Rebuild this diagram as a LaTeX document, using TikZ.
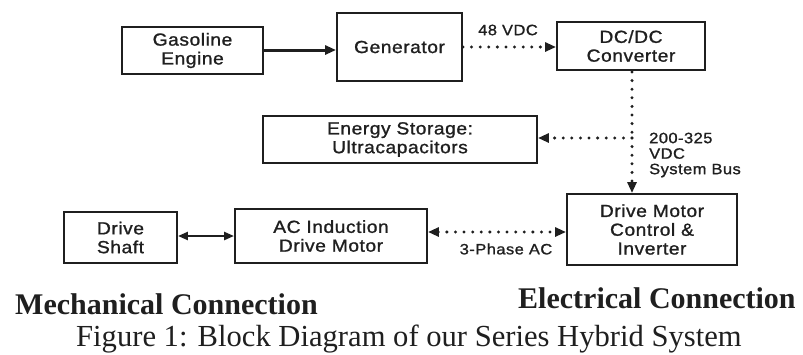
\documentclass[tikz,border=0pt]{standalone}
\usepackage{fontspec}
\setmainfont{Liberation Serif}
\newfontfamily\lab{Liberation Sans}[LetterSpace=3, FakeStretch=1.1, FakeBold=1.2]
\usetikzlibrary{arrows.meta}
\definecolor{ink}{gray}{0.12}
\tikzset{
  blk/.style={draw=ink, line width=1.9pt, minimum width=#1, inner sep=0pt, align=center,
    font=\lab\fontsize{17.5}{18.8}\selectfont, text=ink},
  solidarrow/.style={draw=ink, line width=3pt, -{Triangle[length=11pt,width=9pt]}},
  solidboth/.style={draw=ink, line width=2.3pt, {Triangle[length=10pt,width=8pt]}-{Triangle[length=10pt,width=8pt]}},
  dotline/.style={draw=ink, line width=3.3pt, line cap=round, dash pattern=on 0pt off 8.6pt},
  dotarrow/.style={dotline, -{Triangle[length=11pt,width=9pt]}},
  dotboth/.style={dotline, {Triangle[length=11pt,width=9pt]}-{Triangle[length=11pt,width=9pt]}},
  smalllab/.style={font=\lab\fontsize{15}{15.5}\selectfont, text=ink, inner sep=0pt},
  bigbold/.style={font=\fontsize{30}{32}\selectfont\bfseries, text=ink, inner sep=0pt, anchor=base west},
}
\begin{document}
\begin{tikzpicture}[x=1pt,y=-1pt]
\useasboundingbox (0,0) rectangle (803,354);
% boxes
\node[blk=141pt, minimum height=47pt] (eng) at (192.5,50.5) {Gasoline\\Engine};
\node[blk=125pt, minimum height=68pt] (gen) at (399.5,47) {Generator};
\node[blk=148pt, minimum height=48pt] (dcdc) at (631,46) {DC/DC\\Converter};
\node[blk=274pt, minimum height=47pt] (es) at (400,139.5) {Energy Storage:\\Ultracapacitors};
\node[blk=170pt, minimum height=71pt] (dm) at (652,229.5) {Drive Motor\\Control \&\\Inverter};
\node[blk=192pt, minimum height=54pt] (ac) at (331,236) {AC Induction\\Drive Motor};
\node[blk=113pt, minimum height=51pt] (ds) at (120.5,237.5) {Drive\\Shaft};
% helper coordinates
\coordinate (vtop) at (632,72);
\coordinate (vbr) at (632,138);
% connectors
\draw[solidarrow] (eng.east |- 0,50) -- (gen.west |- 0,50);
\draw[dotarrow] (gen.east |- 0,47) -- (dcdc.west |- 0,47);
\draw[dotline] (vtop) -- (vbr);
\draw[dotarrow] (vbr) -- (dm.north -| vbr);
\draw[dotarrow] (vbr) -- (es.east |- vbr);
\draw[dotboth] (ac.east |- 0,232) -- (dm.west |- 0,232);
\draw[solidboth] (ds.east |- 0,236) -- (ac.west |- 0,236);
% labels
\node[smalllab] (l48) at (508,30) {48 VDC};
\node[smalllab, align=left, anchor=west] (lbus) at (649,155) {200-325\\VDC\\System Bus};
\node[smalllab] (l3p) at (506,249) {3-Phase AC};
% legend and caption
\node[bigbold] (mech) at (15,314) {Mechanical Connection};
\node[bigbold] (elec) at (518,308) {Electrical Connection};
\node[font=\fontsize{30.6}{32}\selectfont, text=ink, inner sep=0pt, anchor=base west] (cap) at (76,346) {Figure 1: Block Diagram of our Series Hybrid System};
\end{tikzpicture}
\end{document}
